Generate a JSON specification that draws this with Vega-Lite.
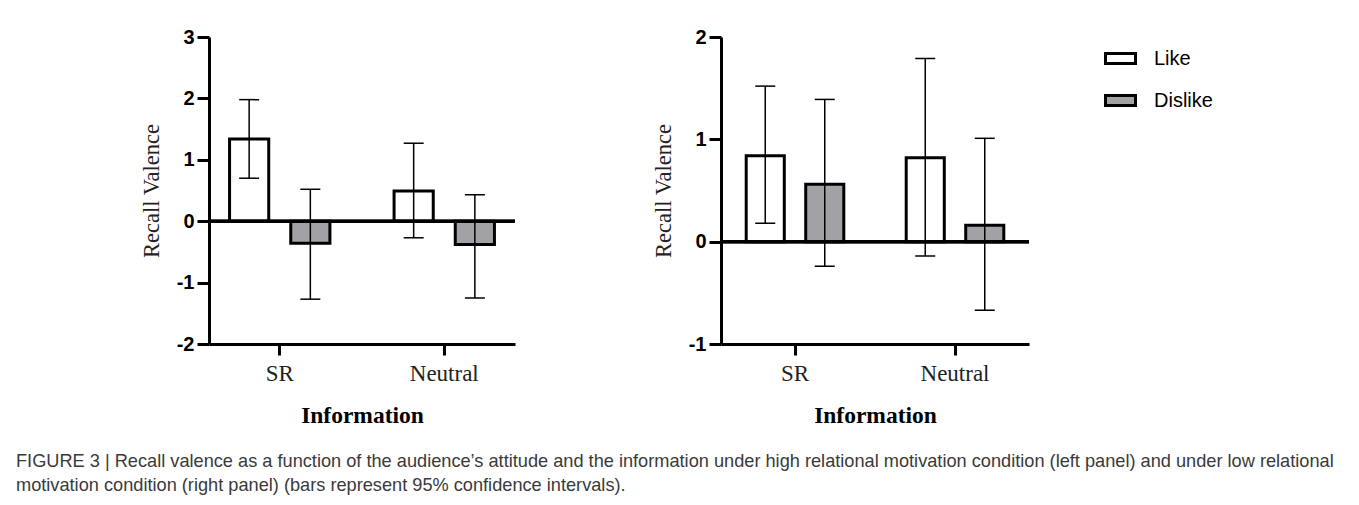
{
  "$schema": "https://vega.github.io/schema/vega-lite/v6.json",
  "background": "white",
  "padding": {"left": 16, "top": 27, "right": 5, "bottom": 5},
  "datasets": {
    "vals": [
      {"panel": "High", "Information": "SR", "Attitude": "Like", "mean": 1.34, "lo": 0.70, "hi": 1.98},
      {"panel": "High", "Information": "SR", "Attitude": "Dislike", "mean": -0.36, "lo": -1.27, "hi": 0.52},
      {"panel": "High", "Information": "Neutral", "Attitude": "Like", "mean": 0.49, "lo": -0.27, "hi": 1.27},
      {"panel": "High", "Information": "Neutral", "Attitude": "Dislike", "mean": -0.38, "lo": -1.25, "hi": 0.43},
      {"panel": "Low", "Information": "SR", "Attitude": "Like", "mean": 0.84, "lo": 0.18, "hi": 1.52},
      {"panel": "Low", "Information": "SR", "Attitude": "Dislike", "mean": 0.56, "lo": -0.24, "hi": 1.39},
      {"panel": "Low", "Information": "Neutral", "Attitude": "Like", "mean": 0.82, "lo": -0.14, "hi": 1.79},
      {"panel": "Low", "Information": "Neutral", "Attitude": "Dislike", "mean": 0.16, "lo": -0.67, "hi": 1.01}
    ]
  },
  "data": {"name": "vals"},
  "title": {
    "text": [
      "FIGURE 3 | Recall valence as a function of the audience’s attitude and the information under high relational motivation condition (left panel) and under low relational",
      "motivation condition (right panel) (bars represent 95% confidence intervals)."
    ],
    "orient": "bottom",
    "anchor": "start",
    "frame": "group",
    "dx": -193,
    "offset": 26,
    "font": "Liberation Sans",
    "fontSize": 18.2,
    "fontWeight": "normal",
    "color": "#3a3a3a",
    "lineHeight": 24
  },
  "spacing": 135,
  "hconcat": [
    {
      "width": 306,
      "height": 307,
      "transform": [{"filter": "datum.panel === 'High'"}],
      "encoding": {
        "x": {
          "field": "Information", "type": "nominal", "sort": ["SR", "Neutral"],
          "scale": {"paddingInner": 0.39, "paddingOuter": 0.125},
          "title": "Information"
        },
        "xOffset": {
          "field": "Attitude", "type": "nominal", "sort": ["Like", "Dislike"],
          "scale": {"paddingInner": 0.36, "paddingOuter": 0}
        }
      },
      "layer": [
        {
          "mark": {"type": "bar", "stroke": "black", "strokeWidth": 3},
          "encoding": {
            "y": {"field": "mean", "type": "quantitative",
                  "scale": {"domain": [-2, 3], "nice": false, "zero": false},
                  "axis": {"values": [-2, -1, 0, 1, 2, 3], "labelExpr": "'' + datum.value"},
                  "title": "Recall Valence"},
            "y2": {"datum": 0},
            "fill": {"field": "Attitude", "type": "nominal",
                     "scale": {"domain": ["Like", "Dislike"], "range": ["#ffffff", "#a2a2a6"]},
                     "legend": {"title": null}}
          }
        },
        {
          "mark": {"type": "rule", "stroke": "black", "strokeWidth": 3},
          "encoding": {"y": {"datum": 0}, "x": null, "xOffset": null}
        },
        {
          "mark": {"type": "rule", "stroke": "black", "strokeWidth": 1.5},
          "encoding": {"y": {"field": "lo", "type": "quantitative"}, "y2": {"field": "hi"}}
        },
        {
          "mark": {"type": "tick", "color": "black", "size": 20, "thickness": 1.5, "opacity": 1},
          "encoding": {"y": {"field": "lo", "type": "quantitative"}}
        },
        {
          "mark": {"type": "tick", "color": "black", "size": 20, "thickness": 1.5, "opacity": 1},
          "encoding": {"y": {"field": "hi", "type": "quantitative"}}
        }
      ]
    },
    {
      "width": 308,
      "height": 307,
      "transform": [{"filter": "datum.panel === 'Low'"}],
      "encoding": {
        "x": {
          "field": "Information", "type": "nominal", "sort": ["SR", "Neutral"],
          "scale": {"paddingInner": 0.39, "paddingOuter": 0.1575},
          "title": "Information"
        },
        "xOffset": {
          "field": "Attitude", "type": "nominal", "sort": ["Like", "Dislike"],
          "scale": {"paddingInner": 0.36, "paddingOuter": 0}
        }
      },
      "layer": [
        {
          "mark": {"type": "bar", "stroke": "black", "strokeWidth": 3},
          "encoding": {
            "y": {"field": "mean", "type": "quantitative",
                  "scale": {"domain": [-1, 2], "nice": false, "zero": false},
                  "axis": {"values": [-1, 0, 1, 2], "labelExpr": "'' + datum.value"},
                  "title": "Recall Valence"},
            "y2": {"datum": 0},
            "fill": {"field": "Attitude", "type": "nominal",
                     "scale": {"domain": ["Like", "Dislike"], "range": ["#ffffff", "#a2a2a6"]},
                     "legend": {"title": null}}
          }
        },
        {
          "mark": {"type": "rule", "stroke": "black", "strokeWidth": 3},
          "encoding": {"y": {"datum": 0}, "x": null, "xOffset": null}
        },
        {
          "mark": {"type": "rule", "stroke": "black", "strokeWidth": 1.5},
          "encoding": {"y": {"field": "lo", "type": "quantitative"}, "y2": {"field": "hi"}}
        },
        {
          "mark": {"type": "tick", "color": "black", "size": 20, "thickness": 1.5, "opacity": 1},
          "encoding": {"y": {"field": "lo", "type": "quantitative"}}
        },
        {
          "mark": {"type": "tick", "color": "black", "size": 20, "thickness": 1.5, "opacity": 1},
          "encoding": {"y": {"field": "hi", "type": "quantitative"}}
        }
      ]
    }
  ],
  "resolve": {"scale": {"y": "independent", "x": "independent", "xOffset": "independent"}},
  "config": {
    "view": {"stroke": null},
    "axis": {
      "grid": false,
      "domainColor": "black",
      "domainWidth": 3,
      "tickColor": "black",
      "tickWidth": 3,
      "labelColor": "black"
    },
    "axisY": {
      "tickSize": 12,
      "labelPadding": 3,
      "labelFont": "Liberation Sans",
      "labelFontWeight": "bold",
      "labelFontSize": 20,
      "titleFont": "Liberation Serif",
      "titleFontWeight": "normal",
      "titleFontSize": 22.5,
      "titleColor": "#222222",
      "titlePadding": 13
    },
    "axisX": {
      "tickSize": 11,
      "labelPadding": 7,
      "labelAngle": 0,
      "labelFont": "Liberation Serif",
      "labelFontSize": 23,
      "labelColor": "#222222",
      "titleFont": "Liberation Serif",
      "titleFontWeight": "bold",
      "titleFontSize": 23.5,
      "titleColor": "black",
      "titlePadding": 18
    },
    "legend": {
      "orient": "right",
      "offset": 68,
      "padding": 5,
      "symbolType": "M-1,-0.333H1V0.333H-1Z",
      "symbolSize": 900,
      "symbolStrokeColor": "black",
      "symbolStrokeWidth": 3,
      "labelFont": "Liberation Sans",
      "labelFontSize": 20,
      "labelColor": "black",
      "labelOffset": 17,
      "rowPadding": 14
    }
  }
}
